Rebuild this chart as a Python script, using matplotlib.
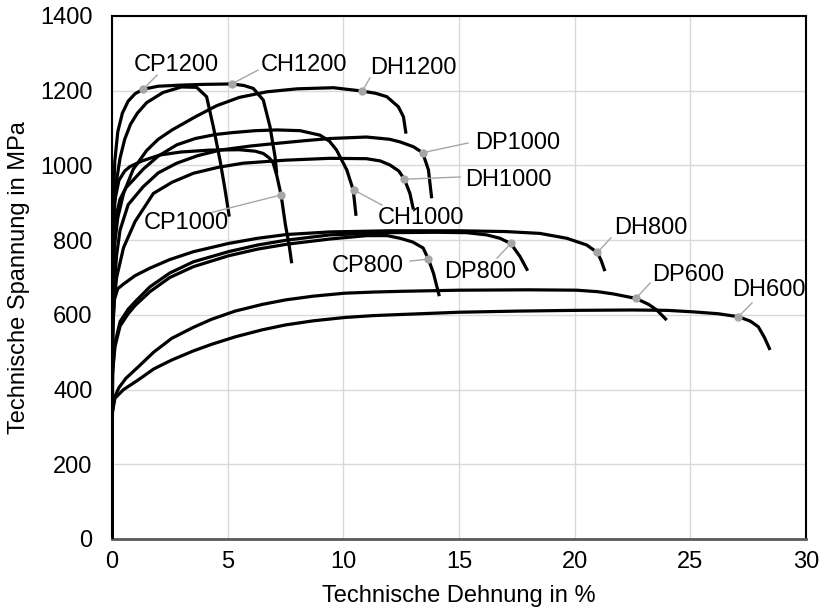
import matplotlib
matplotlib.use('Agg')
import matplotlib.pyplot as plt

plt.rcParams['font.family'] = ['Liberation Sans', 'DejaVu Sans']

# stress-strain curves: strain in %, stress in MPa
cp1200_e = [0, 0.03, 0.1, 0.2, 0.35, 0.55, 0.8, 1.1, 1.5, 2.2, 3.0, 3.66, 4.09, 4.38, 4.67, 4.89, 5.07]
cp1200_s = [0, 750, 880, 960, 1020, 1070, 1110, 1140, 1168, 1195, 1210, 1209, 1184, 1104, 1014, 934, 863]

ch1200_e = [0, 0.02, 0.06, 0.12, 0.25, 0.45, 0.7, 1.0, 1.35, 2.0, 3.0, 4.0, 5.17, 5.7, 6.11, 6.54, 6.83, 7.05, 7.12]
ch1200_s = [0, 700, 900, 1010, 1090, 1140, 1172, 1192, 1204, 1212, 1215, 1217, 1218, 1214, 1206, 1175, 1104, 1023, 979]

dh1200_e = [0, 0.03, 0.1, 0.25, 0.5, 0.92, 1.5, 2.0, 2.6, 3.6, 4.53, 5.5, 6.69, 8.0, 9.57, 10.82, 11.4, 11.88, 12.38, 12.6, 12.71]
dh1200_s = [0, 650, 780, 860, 925, 990, 1040, 1070, 1095, 1130, 1160, 1182, 1197, 1205, 1208, 1199, 1193, 1184, 1157, 1130, 1085]

ch1000_e = [0, 0.03, 0.1, 0.2, 0.35, 0.6, 0.92, 1.35, 2.0, 2.8, 3.6, 4.5, 5.24, 6.2, 7.12, 8.13, 8.99, 9.4, 9.71, 10.15, 10.43, 10.55]
ch1000_s = [0, 650, 800, 870, 910, 940, 961, 990, 1025, 1055, 1072, 1083, 1088, 1093, 1095, 1093, 1081, 1065, 1041, 988, 934, 865]

cp1000_e = [0, 0.03, 0.1, 0.3, 0.55, 0.78, 1.3, 2.08, 3.0, 4.24, 5.5, 6.2, 6.54, 6.8, 6.97, 7.12, 7.31, 7.5, 7.65, 7.77]
cp1000_s = [0, 800, 900, 960, 985, 997, 1012, 1028, 1036, 1041, 1042, 1038, 1032, 1020, 1006, 974, 921, 840, 790, 738]

dp1000_e = [0, 0.03, 0.1, 0.2, 0.35, 0.7, 1.35, 2.0, 2.8, 3.7, 4.67, 6.0, 7.12, 8.3, 9.42, 11.0, 12.0, 12.45, 13.03, 13.43, 13.68, 13.82]
dp1000_s = [0, 550, 680, 760, 827, 895, 943, 980, 1006, 1026, 1041, 1052, 1059, 1066, 1072, 1076, 1070, 1063, 1050, 1034, 988, 912]

dh1000_e = [0, 0.03, 0.1, 0.2, 0.5, 1.0, 1.79, 2.6, 3.52, 4.6, 5.68, 7.5, 9.42, 11.0, 11.6, 12.02, 12.4, 12.64, 12.88, 13.03]
dh1000_s = [0, 550, 640, 700, 780, 850, 925, 955, 979, 995, 1006, 1014, 1019, 1018, 1012, 1001, 985, 963, 925, 882]

dh800_e = [0, 0.02, 0.1, 0.25, 0.49, 1.0, 1.64, 2.5, 3.52, 5.03, 6.3, 7.55, 9.42, 12.0, 15.0, 17.0, 18.5, 19.66, 20.52, 20.98, 21.15, 21.31]
dh800_s = [0, 560, 640, 670, 682, 705, 725, 748, 769, 791, 805, 815, 822, 825, 825, 823, 818, 805, 787, 767, 745, 717]

dp800_e = [0, 0.02, 0.13, 0.35, 0.7, 1.0, 1.64, 2.5, 3.52, 5.03, 6.3, 7.55, 9.42, 12.0, 14.0, 15.33, 16.2, 16.77, 17.24, 17.64, 17.97]
dp800_s = [0, 450, 524, 582, 615, 635, 675, 712, 742, 769, 787, 800, 814, 820, 821, 820, 814, 805, 791, 756, 718]

cp800_e = [0, 0.02, 0.13, 0.35, 0.7, 1.0, 1.64, 2.5, 3.52, 5.03, 6.3, 7.55, 9.42, 11.0, 11.9, 12.45, 13.0, 13.45, 13.68, 13.9, 14.15]
cp800_s = [0, 440, 515, 570, 603, 625, 662, 700, 729, 758, 776, 789, 803, 812, 812, 805, 795, 779, 749, 711, 650]

dp600_e = [0, 0.02, 0.1, 0.3, 0.6, 1.14, 1.8, 2.58, 3.5, 4.3, 5.32, 6.5, 7.5, 8.7, 10.07, 11.3, 12.5, 15.0, 18.0, 20.09, 21.0, 21.67, 22.65, 23.2, 23.55, 23.98]
dp600_s = [0, 340, 378, 405, 430, 461, 500, 537, 566, 588, 610, 628, 640, 650, 658, 661, 663, 666, 667, 666, 662, 656, 644, 628, 613, 586]

dh600_e = [0, 0.02, 0.13, 0.5, 1.14, 1.8, 2.58, 3.5, 4.3, 5.32, 6.5, 7.5, 8.7, 10.07, 11.3, 12.5, 15.0, 17.5, 20.0, 22.5, 24.0, 25.13, 26.2, 27.08, 27.6, 27.94, 28.2, 28.45]
dh600_s = [0, 340, 377, 400, 426, 455, 479, 503, 521, 541, 560, 573, 584, 593, 598, 601, 607, 610, 612, 613, 612, 608, 603, 595, 583, 568, 540, 506]

curves = [(cp1200_e, cp1200_s), (ch1200_e, ch1200_s), (dh1200_e, dh1200_s),
          (ch1000_e, ch1000_s), (cp1000_e, cp1000_s), (dp1000_e, dp1000_s),
          (dh1000_e, dh1000_s), (dh800_e, dh800_s), (dp800_e, dp800_s),
          (cp800_e, cp800_s), (dp600_e, dp600_s), (dh600_e, dh600_s)]

# labels: name, marked point on curve, end of leader line, text centre
label_names = ['CP1200', 'CH1200', 'DH1200', 'DP1000', 'DH1000', 'CH1000',
               'CP1000', 'CP800', 'DP800', 'DH800', 'DP600', 'DH600']
dot_e = [1.35, 5.17, 10.82, 13.43, 12.64, 10.46, 7.31, 13.68, 17.24, 20.98, 22.65, 27.08]
dot_s = [1204, 1218, 1199, 1034, 963, 934, 921, 749, 791, 767, 644, 595]
lead_e = [1.95, 6.31, 11.15, 15.39, 15.05, 11.67, 4.24, 12.88, 16.65, 21.57, 23.26, 27.67]
lead_s = [1242, 1255, 1234, 1060, 969, 894, 873, 744, 752, 806, 685, 632]
text_e = [2.77, 8.30, 13.01, 17.55, 17.12, 13.36, 3.20, 11.07, 15.91, 23.30, 24.90, 28.40]
text_s = [1269, 1269, 1261, 1060, 961, 859, 846, 731, 715, 832, 707, 666]

fig = plt.figure(figsize=(8.24, 6.10), dpi=100)
ax = fig.add_axes([0.1359, 0.1164, 0.8422, 0.8574])

for e, s in curves:
    ax.plot(e, s, color='black', lw=2.3, solid_capstyle='butt', zorder=3)

for name, de, ds, le, ls, te, ts in zip(label_names, dot_e, dot_s, lead_e, lead_s, text_e, text_s):
    ax.plot([de, le], [ds, ls], color='#a6a6a6', lw=1, zorder=4)
    ax.plot(de, ds, 'o', color='#a6a6a6', ms=6, mec='none', zorder=5)
    ax.text(te, ts, name, fontsize=17, ha='center', va='center', zorder=6)

ax.set_xlim(0, 30)
ax.set_ylim(0, 1400)
ax.set_xticks(range(0, 31, 5))
ax.set_yticks(range(0, 1401, 200))
ax.grid(color='#d9d9d9', lw=1)
ax.set_axisbelow(True)
ax.tick_params(length=0, labelsize=17)
ax.tick_params(axis='x', pad=9)
ax.tick_params(axis='y', pad=14)
for side in ['left', 'top', 'right']:
    ax.spines[side].set_color('black')
    ax.spines[side].set_linewidth(1.5)
ax.spines['bottom'].set_color('#595959')
ax.spines['bottom'].set_linewidth(2)

ax.set_xlabel('Technische Dehnung in %', fontsize=17, labelpad=8)
ax.set_ylabel('Technische Spannung in MPa', fontsize=17, labelpad=7)

fig.savefig('out.png', dpi=100)
